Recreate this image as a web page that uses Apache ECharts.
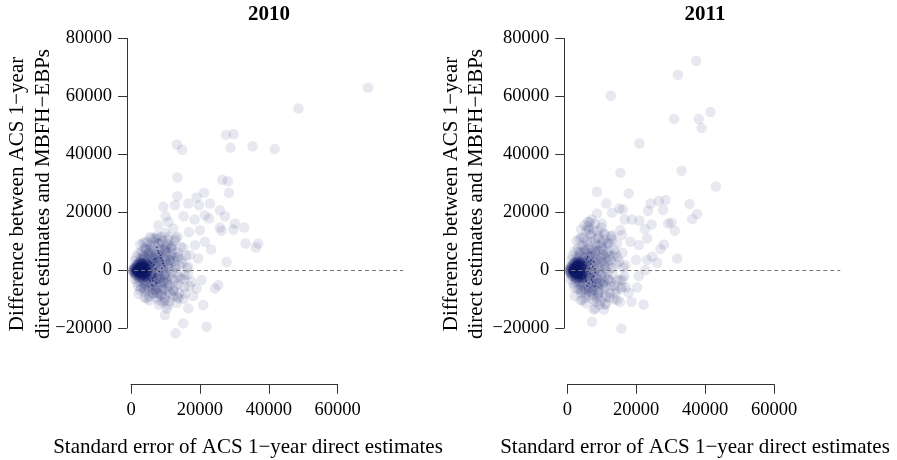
<!DOCTYPE html>
<html>
<head>
<meta charset="utf-8">
<script src="https://cdn.jsdelivr.net/npm/echarts@6/dist/echarts.min.js"></script>
<style>
html, body { margin: 0; padding: 0; background: #ffffff; }
#chart { width: 897px; height: 460px; }
</style>
</head>
<body>
<div id="chart"></div>
<script>
// Panel headings and axis text
const years = ['2010', '2011'];
const yTicks = [-20000, 0, 20000, 40000, 60000, 80000];
const xTicks = [0, 20000, 40000, 60000];
const yTitleLines = ['Difference between ACS 1\u2212year', 'direct estimates and MBFH\u2212EBPs'];
const xTitle = 'Standard error of ACS 1\u2212year direct estimates';

// 2010: [standard error, difference]
const outer2010 = [
  [68800,63000],[48600,55800],[27600,46700],[29800,47000],[28900,42300],[35300,42800],[41700,41800],
  [13350,43400],[14800,41600],[13450,32000],[26500,31200],[28100,30700],
  [13440,25530],[19050,25070],[21180,26680],[28430,26680],[16630,23000],[19730,22430],[22920,23000],
  [9380,21850],[12770,22430],[25820,20700],[27270,18630],[10050,18630],[15280,18630],[18470,17480],
  [21470,18970],[22630,17820],[7930,15530],[10830,16680],[30170,16100],[32880,14720],[29690,14030],
  [25820,14720],[26300,13570],[12280,14380],[16830,13110],[20020,13800],[13540,11500],[10830,11500],
  [5990,10920],[7640,10920],[8120,9200],[21470,9770],[33260,9200],[36940,9200],[36260,7820],
  [23210,7130],[18570,8620],[15180,7820],[11800,7470],[9860,6900],[5510,6900],[4060,7470],
  [17110,5170],[19530,4030],[13730,4600],[11310,3450],[27750,2760],[7930,4030],[6960,2300],
  [4060,4030],[2610,2880],[16630,1150],[12770,1150],
  [15670,-1725],[13730,-2300],[9860,-1725],[7930,-2875],[5990,-4600],[17600,-4025],[20500,-3450],
  [19050,-6325],[25330,-5175],[24370,-6325],[4060,-6325],[9860,-6900],[7930,-8050],[12280,-6900],
  [15670,-8050],[4550,-9775],[9860,-10350],[13250,-11270],[18080,-8970],[16630,-13225],[20980,-12075],
  [10350,-13225],[10830,-12075],[9860,-15525],[15180,-18400],[21950,-19550],[12960,-21850],
  [6480,-8050],[2610,-6900],[13730,-9775]
];
const cloud2010 = [
  [5500,2500],[5800,-2000],[6000,600],[6200,4200],[6500,-3500],[6800,1500],[7000,-1200],[7200,5500],
  [7500,-5000],[7800,3000],[8000,-300],[8200,7000],[8500,-3000],[8800,1800],[9000,9500],[9200,-6500],
  [9500,4000],[9800,-1500],[10000,6500],[10300,-4500],[10500,2000],[10800,10500],[11000,-7500],
  [11200,500],[11500,5000],[11800,-2800],[12000,8500],[12300,-9000],[12500,3000],[12800,-5500],
  [13000,11000],[13300,-1000],[13600,6000],[14000,-8000],[14200,1500],[4500,3800],[4800,-4000],
  [5200,6000],[5000,-6000],[5600,8500],[6300,-8000],[6600,9800],[7300,-9500],[7600,12000],
  [8300,-10500],[8700,11500],[9400,-11000],[6000,3000],[6400,-500],[7100,2300],[7400,-2600],
  [8100,4800],[8600,-4200],[9100,600],[9600,7200],[10200,-800],[10700,-6000],[11300,3600],
  [11700,7600],[12600,-3500],[13200,4500],[3800,5000],[3500,-4500],[4200,7500],[4000,-7500],
  [4800,9500],[5500,11500],[2800,4000],[2500,-3800],[3000,6500],[3000,-6000],[5300,-9000],
  [6900,-7000],[8900,-8500],[10600,9000],[14500,-3000],[15000,2500],[15500,-6000],[16000,5000],
  [16500,-1500],[9900,3500],[7700,-6000],[6100,-1600],[5400,1200],[4400,-2500],
  [1500,4500],[1800,-4200],[2200,5800],[2000,-5500],[1200,3200],[1000,-3000],[2500,2600],[2400,-2800],
  [3200,3500],[3400,-3200],[3600,4300],[3900,-3800],[4300,2800],[4600,-1800],[5000,3900],[5300,-3000],
  [5700,4900],[5900,-4700],[6100,6300],[6400,-5600],[6700,3800],[7000,-4100],[7300,4500],[7600,-3300],
  [7900,5600],[8200,-2000],[8500,3200],[8800,-5200],[9100,5900],[9400,-3800],[9700,2600],[10000,-2800],
  [10300,4900],[10600,-3700],[10900,1300],[11200,-5200],[11500,8200],[11800,-600],[12100,5800],
  [12400,-7200],[4200,-5200],[4700,6800],[5100,-7200],[5800,7600],[6200,-6800],[6800,8600],[7400,-7800],
  [8000,9200],[8600,-8800],[9200,10200],[9800,-9600],[3300,5500],[3700,-6200],[2900,-1500],[4900,-300],
  [6300,1100],[7700,-800],[9300,-300],[10800,-2200],[11600,2600],[12900,700],[13800,-4800],[14600,3800],
  [15400,-3200],[16200,800],[17000,-5500],[4100,9800],[5400,-10500],[6900,11000],[8100,-12000],
  [9900,12800],[11100,-10800],[12700,10200],[13500,-9200],[14400,8000],[15300,-10000],[2200,-8200],
  [2700,8800],[3500,9300],[3900,-9500],[5600,2200],[6500,-2300],[7500,1200],[8300,2500],[9600,-4300],
  [10400,6000],[11400,-8400],[12300,4200],[6900,5200],[5100,5600],[4500,-4300],[7200,-6300],[8700,7300],
  [9000,-7000],[10100,8200],[3100,1800],[3800,-1200],[5900,-300],[7900,-1800],[9500,700]
];
const core2010 = [
  [500,100],[800,-500],[1000,600],[1200,-1000],[1400,200],[1500,1100],[1700,-300],[1800,-1500],
  [2000,700],[2100,1700],[2200,-700],[2300,300],[2400,-1900],[2500,1000],[2600,-200],[2700,2000],
  [2800,-1100],[2900,500],[3000,-2200],[3100,1300],[3200,-500],[3300,2100],[3400,-1600],[3500,800],
  [3600,-100],[3700,1600],[3800,-2300],[3900,300],[4000,-1000],[4100,1100],[4200,-400],[4300,-1800],
  [4400,600],[4500,1700],[4600,-900],[900,900],[1100,-1300],[1300,1500],[1600,-2000],[1900,2200],
  [2300,-2400],[2700,2300],[3100,-2500],[3600,2300],[4100,2000],[4400,-2300],[700,-800],[1200,400],
  [2000,-300],[3000,0],
  [600,-300],[900,300],[1100,-700],[1300,800],[1500,-400],[1700,600],[1900,-900],[2100,200],
  [2300,-1300],[2500,1500],[2700,-600],[2900,1200],[3100,-1500],[3300,400],[3500,-800],[3700,1000],
  [3900,-1700],[4100,-200],[4300,1300],[4500,-1400],[4700,300],[4900,-600],[5100,800],[5200,-1600],
  [1400,-1800],[1800,1900],[2200,2400],[2600,-2300],[3000,2500],[3400,2400],[3800,2100],[4200,-2500],
  [4800,1500],[5000,-2000],[1000,0],[2400,-100],[3200,1900],[3600,-2200],[4000,700],[4600,2200]
];
const specks2010 = [
  [7500,7800],[7900,6700],[8100,5900],[8600,5100],[8700,4100],[9200,3300],[9300,2300],[9700,1500],
  [9000,600],[8200,-500],[7000,-1500],[6200,-2800],[5600,-3800],[6600,1800],[6000,2600],[5800,-600],
  [6800,-2200],[7200,400],[5400,3000],[6400,-3600],[5200,-1200],[5000,1800],[4900,-2900],[5500,500],
  [6100,-5200],[7400,-4300],[6900,3900]
];

// 2011: [standard error, difference]
const outer2011 = [
  [37380,72200],[32060,67480],[12600,60220],[30990,52160],[38150,52160],[41540,54580],[38930,49050],
  [20920,43750],[33120,34300],[15400,33610],[43090,28890],
  [8620,27060],[17820,26490],[11330,23030],[15110,21300],[16080,20960],[24110,23030],[26530,23840],
  [28470,24180],[27790,20730],[23430,20500],[35440,22800],[37660,19350],[36210,17620],[12980,19810],
  [8620,19580],[6010,16700],[10080,16120],[16660,17500],[18790,17500],[20920,17050],[24400,15770],
  [22470,14160],[29240,16120],[30210,16470],[31180,13590],[6200,14050],[10560,12660],[15400,13820],
  [15880,12090],[12980,10590],[18300,9780],[23140,10940],[20730,8630],[27980,8860],[27010,7250],
  [31860,4020],[24600,4600],[26050,2530],[23140,3450],[19950,3450],[8140,6900],[10560,5170],
  [13950,5750],[12010,1720],[16850,1720],[22660,0],[20730,-2080],[16080,-3230],[12010,-3460],
  [8620,-4610],[6200,-6340],[4270,-6920],[9110,-8070],[13950,-6920],[15880,-5770],[20240,-6000],
  [17820,-7840],[22120,-11870],[18600,-10950],[14430,-10380],[11040,-11530],[7650,-13600],
  [10560,-13600],[7170,-17860],[15690,-20170],[4460,-10380]
];
const cloud2011 = [
  [5500,3000],[5800,-2500],[6000,800],[6200,5000],[6500,-4000],[6800,2000],[7000,-1000],[7200,7000],
  [7500,-5500],[7800,3500],[8000,0],[8200,9000],[8500,-3000],[8800,2000],[9000,11000],[9200,-7000],
  [9500,4500],[9800,-1500],[10000,7500],[10300,-5000],[10500,2500],[10800,12500],[11000,-8500],
  [11200,500],[11500,6000],[11800,-3000],[12000,9500],[12300,-9500],[12500,3500],[12800,-5500],
  [13000,12000],[13300,-1500],[13600,7000],[14000,-8000],[14200,2000],[4500,4500],[4800,-4500],
  [5200,7000],[5000,-6500],[5600,10000],[6300,-8500],[6600,12000],[7300,-10000],[7600,14000],
  [8300,-11000],[8700,13500],[9400,-12000],[6000,3500],[6400,-800],[7100,2800],[7400,-2800],
  [8100,5500],[8600,-4500],[9100,800],[9600,8500],[10200,-1000],[10700,-6500],[11300,4000],
  [11700,9000],[12600,-4000],[13200,5000],[3800,6000],[3500,-5000],[4200,8500],[4000,-8000],
  [4800,11000],[5500,13500],[2800,4500],[2500,-4000],[3000,7500],[3000,-6500],[5300,-9500],
  [6900,-7500],[8900,-9000],[10600,10500],[14500,-3500],[15000,3000],[15500,-6500],[16000,6000],
  [16500,-2000],[9900,4000],[7700,-6500],[6100,-1800],[5400,1500],[4400,-2800],[5000,15500],
  [6500,16500],[8000,16000],
  [1500,5000],[1800,-4600],[2200,6500],[2000,-6000],[1200,3600],[1000,-3300],[2500,3000],[2400,-3100],
  [3200,4000],[3400,-3600],[3600,5000],[3900,-4200],[4300,3200],[4600,-2000],[5000,4500],[5300,-3300],
  [5700,5600],[5900,-5200],[6100,7200],[6400,-6200],[6700,4400],[7000,-4500],[7300,5200],[7600,-3600],
  [7900,6400],[8200,-2200],[8500,3700],[8800,-5700],[9100,6800],[9400,-4200],[9700,3000],[10000,-3100],
  [10300,5600],[10600,-4100],[10900,1500],[11200,-5700],[11500,9400],[11800,-700],[12100,6700],
  [12400,-7900],[4200,-5700],[4700,7800],[5100,-7900],[5800,8700],[6200,-7500],[6800,9900],[7400,-8600],
  [8000,10600],[8600,-9700],[9200,11700],[9800,-10600],[3300,6300],[3700,-6800],[2900,-1700],[4900,-300],
  [6300,1300],[7700,-900],[9300,-300],[10800,-2400],[11600,3000],[12900,800],[13800,-5300],[14600,4400],
  [15400,-3500],[16200,900],[17000,-6000],[4100,11300],[5400,-11500],[6900,12600],[8100,-13200],
  [9900,14700],[11100,-11900],[12700,11700],[13500,-10100],[14400,9200],[15300,-11000],[2200,-9000],
  [2700,10100],[3500,10700],[3900,-10400],[5600,2500],[6500,-2500],[7500,1400],[8300,2900],[9600,-4700],
  [10400,6900],[11400,-9200],[12300,4800],[6900,6000],[5100,6400],[4500,-4700],[7200,-6900],[8700,8400],
  [9000,-7700],[10100,9400],[3100,2100],[3800,-1300],[5900,-300],[7900,-2000],[9500,800],[4000,14000],
  [6000,15000],[7000,17500]
];
const core2011 = [
  [500,200],[800,-600],[1000,800],[1200,-1100],[1400,300],[1500,1400],[1700,-400],[1800,-1700],
  [2000,900],[2100,2000],[2200,-800],[2300,400],[2400,-2100],[2500,1200],[2600,-200],[2700,2400],
  [2800,-1300],[2900,600],[3000,-2500],[3100,1600],[3200,-600],[3300,2600],[3400,-1800],[3500,1000],
  [3600,-100],[3700,1900],[3800,-2600],[3900,400],[4000,-1200],[4100,1300],[4200,-500],[4300,-2000],
  [4400,700],[4500,2100],[4600,-1000],[900,1100],[1100,-1500],[1300,1800],[1600,-2300],[1900,2700],
  [2300,-2700],[2700,2900],[3100,-2800],[3600,2800],[4100,2500],[4400,-2600],[700,-900],[1200,500],
  [2000,-300],[3000,0],
  [600,-300],[900,400],[1100,-800],[1300,900],[1500,-500],[1700,700],[1900,-1000],[2100,300],
  [2300,-1500],[2500,1800],[2700,-700],[2900,1400],[3100,-1700],[3300,500],[3500,-900],[3700,1200],
  [3900,-1900],[4100,-200],[4300,1500],[4500,-1600],[4700,400],[4900,-700],[5100,900],[5200,-1800],
  [1400,-2000],[1800,2200],[2200,2800],[2600,-2600],[3000,3000],[3400,2900],[3800,2500],[4200,-2900],
  [4800,1800],[5000,-2300],[1000,0],[2400,-100],[3200,2200],[3600,-2500],[4000,800],[4600,2600]
];
const specks2011 = [
  [5600,3800],[6200,2900],[6800,2100],[7400,1200],[7900,400],[8100,-800],[7600,-2200],[7000,-3400],
  [6300,-4600],[5800,-5500],[6600,-1200],[6000,-300],[5400,1500],[5200,-2600],[6900,3400],[7300,-4200],
  [5000,2800],[5500,-3900],[8000,-5600],[6400,600],[5900,4600],[7700,2900]
];

const panels = [
  { year: years[0], outer: outer2010, cloud: cloud2010, core: core2010, specks: specks2010 },
  { year: years[1], outer: outer2011, cloud: cloud2011, core: core2011, specks: specks2011 }
];

// Layout (pixels)
const plotLeft = [127, 564.3];
const plotTop = 38.5, plotHeight = 289.5, plotWidth = 276;
const xRange = [[-1161, 78955], [-871, 79158]];
const axisLeft = [131, 567.3];
const axisWidth = 206.7, axisTop = 384.3;
const yTitleX = [[17, 43], [451, 476]];
const yTitleY = 194;
const headX = [269, 705];
const xTitleX = [248, 695];

const ink = 'rgb(12,22,98)';
const haze = 'rgba(12,22,98,0.12)';
const axisColor = '#333';
const textColor = '#000';
const serifFamily = '"Liberation Serif", "Times New Roman", serif';
const plain = v => String(v).replace('-', '\u2212');

const tickLabel = {
  color: textColor, fontSize: 18.5, fontFamily: serifFamily, fontWeight: 'normal',
  formatter: plain, showMinLabel: true, showMaxLabel: true
};

const grid = [], xAxis = [], yAxis = [], series = [], graphic = [];

panels.forEach((p, i) => {
  // plotting area
  grid.push({ left: plotLeft[i], top: plotTop, width: plotWidth, height: plotHeight });
  xAxis.push({ type: 'value', gridIndex: i, min: xRange[i][0], max: xRange[i][1], show: false });
  yAxis.push({
    type: 'value', gridIndex: i, min: yTicks[0], max: yTicks[yTicks.length - 1], interval: 20000,
    axisLine: { show: true, onZero: false, lineStyle: { color: axisColor, width: 1 } },
    axisTick: { show: true, length: 9, lineStyle: { color: axisColor } },
    axisLabel: Object.assign({ margin: 15 }, tickLabel),
    splitLine: { show: false }
  });
});

panels.forEach((p, i) => {
  // detached x axis below each panel
  grid.push({ left: axisLeft[i], top: axisTop, width: axisWidth, height: 0 });
  xAxis.push({
    type: 'value', gridIndex: 2 + i, min: xTicks[0], max: xTicks[xTicks.length - 1], interval: 20000,
    position: 'bottom',
    axisLine: { show: true, onZero: false, lineStyle: { color: axisColor, width: 1 } },
    axisTick: { show: true, length: 9.5, lineStyle: { color: axisColor } },
    axisLabel: Object.assign({ margin: 16 }, tickLabel),
    splitLine: { show: false }
  });
  yAxis.push({ type: 'value', gridIndex: 2 + i, show: false });
});

panels.forEach((p, i) => {
  series.push({
    type: 'scatter', xAxisIndex: i, yAxisIndex: i, clip: false, silent: true,
    symbol: 'circle', symbolSize: 10.5,
    itemStyle: { color: haze },
    data: p.outer.concat(p.cloud, p.core),
    markLine: {
      silent: true, symbol: ['none', 'none'], label: { show: false },
      lineStyle: { type: [4, 3], color: '#777', width: 1 },
      data: [[{ coord: [xRange[i][0], 0] }, { coord: [xRange[i][1], 0] }]]
    }
  });
  series.push({
    type: 'scatter', xAxisIndex: i, yAxisIndex: i, clip: false, silent: true,
    symbol: 'circle', symbolSize: 1.7,
    itemStyle: { color: ink },
    data: p.core.concat(p.specks)
  });

  graphic.push({
    type: 'text', x: headX[i], y: 15,
    style: { text: p.year, font: 'bold 21px ' + serifFamily, fill: textColor, align: 'center', verticalAlign: 'middle' }
  });
  yTitleLines.forEach((line, k) => {
    graphic.push({
      type: 'text', x: yTitleX[i][k], y: yTitleY, rotation: Math.PI / 2,
      style: { text: line, font: '21px ' + serifFamily, fill: textColor, align: 'center', verticalAlign: 'middle' }
    });
  });
  graphic.push({
    type: 'text', x: xTitleX[i], y: 447,
    style: { text: xTitle, font: '21px ' + serifFamily, fill: textColor, align: 'center', verticalAlign: 'middle' }
  });
});

const chart = echarts.init(document.getElementById('chart'), null, { renderer: 'canvas' });
chart.setOption({
  animation: false,
  backgroundColor: '#ffffff',
  textStyle: { fontFamily: serifFamily },
  grid, xAxis, yAxis, series, graphic
});
</script>
</body>
</html>
